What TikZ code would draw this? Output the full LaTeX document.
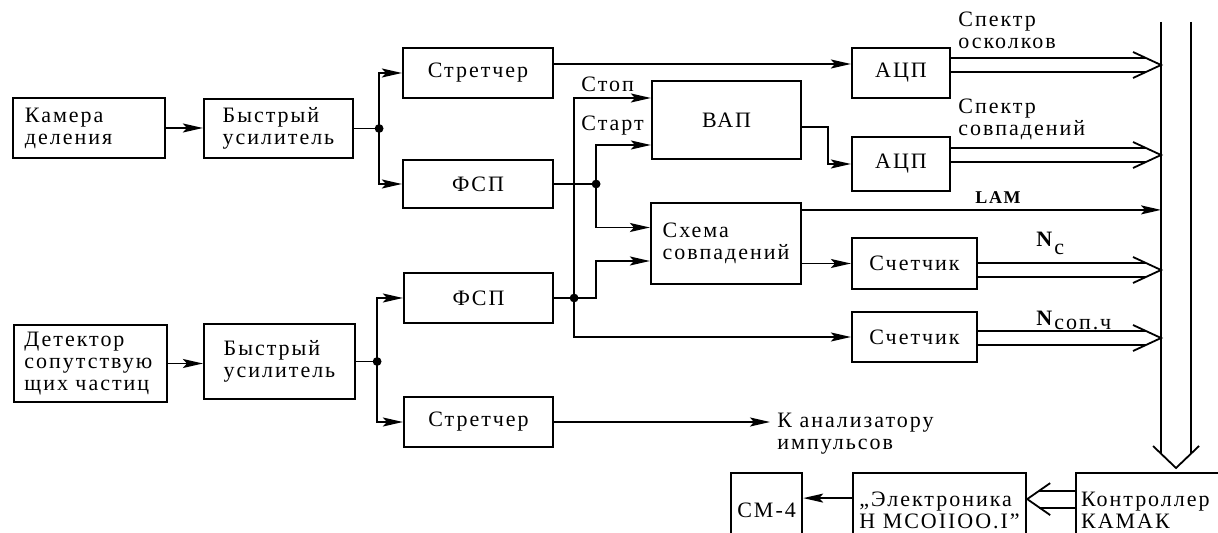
\documentclass[tikz,border=0pt]{standalone}
\usepackage{fontspec}
\setmainfont{Liberation Serif}[LetterSpace=9]
\usetikzlibrary{arrows.meta,calc}
\tikzset{
  blok/.style={draw,line width=1.1pt,inner sep=2pt,align=left},
  wire/.style={line width=0.9pt},
  sig/.style={wire,-{Stealth[length=10pt,width=4.5pt,inset=2pt]}},
  tag/.style={inner sep=0pt,anchor=west,align=left}
}
% double line with open head into the crate bus
\newcommand{\busFeed}[2]{%
  \coordinate (fd) at ([yshift=#2]#1.east);
  \coordinate (fdTip) at (fd -| busL);
  \draw[wire] ([yshift=3.5pt]fd) -- ([xshift=-7.5pt,yshift=3.5pt]fdTip);
  \draw[wire] ([yshift=-3.5pt]fd) -- ([xshift=-7.5pt,yshift=-3.5pt]fdTip);
  \draw[wire] ([xshift=-14pt,yshift=6.5pt]fdTip) -- (fdTip)
    -- ([xshift=-14pt,yshift=-6.5pt]fdTip);
}

\begin{document}
\begin{tikzpicture}[x=0.5pt,y=-0.5pt,font=\fontsize{11}{11}\selectfont]
        \useasboundingbox (0,0) rectangle (1218,533);
        \clip (0,0) rectangle (1218,533);

        % fission chamber channel
        \node[blok,minimum width=76pt,minimum height=30pt,text width=64pt]
          (cam) at (89,128) {Камера\\деления};
        \node[blok,minimum width=74.5pt,minimum height=29.5pt]
          (amp1) at (278.5,128.5) {Быстрый\\усилитель};
        \node[blok,minimum width=75pt,minimum height=25pt]
          (str1) at (478,73) {Стретчер};
        \node[blok,minimum width=75pt,minimum height=24pt]
          (fsp1) at (478,184) {ФСП};

        % associated particle channel
        \node[blok,minimum width=76.5pt,minimum height=38.5pt,text width=66pt]
          (det) at (90.5,363.5) {Детектор\\сопутствую\\щих частиц};
        \node[blok,minimum width=75.5pt,minimum height=37.5pt]
          (amp2) at (279.5,361.5) {Быстрый\\усилитель};
        \node[blok,minimum width=74.5pt,minimum height=25pt]
          (fsp2) at (478.5,298) {ФСП};
        \node[blok,minimum width=74.5pt,minimum height=25pt]
          (str2) at (478.5,422) {Стретчер};

        % timing and counting
        \node[blok,minimum width=74.5pt,minimum height=39pt,text width=62pt,
          align=center] (vap) at (726.5,120) {ВАП\hspace*{7pt}};
        \node[blok,minimum width=75pt,minimum height=40.5pt]
          (coinc) at (726,243.5) {Схема\\совпадений};
        \node[blok,minimum width=49pt,minimum height=25pt]
          (adc1) at (901,73) {АЦП};
        \node[blok,minimum width=49pt,minimum height=27pt]
          (adc2) at (901,164) {АЦП};
        \node[blok,minimum width=62.5pt,minimum height=25.5pt]
          (cnt1) at (914.5,263.5) {Счетчик};
        \node[blok,minimum width=62.5pt,minimum height=25pt]
          (cnt2) at (914.5,337) {Счетчик};

        % computer side
        \node[blok,anchor=north west,minimum width=35.5pt,minimum height=37pt]
          (cm4) at (730,472) {СМ-4};
        \node[blok,anchor=north west,minimum width=86.5pt,minimum height=37pt]
          (elec) at (852,472) {„Электроника\\Н МСОIIОО.I"};
        \node[blok,anchor=north west,minimum width=100pt,minimum height=37pt,
          text width=95pt] (ctrl) at (1075,472) {Контроллер\\КАМАК};

        \coordinate (j1) at ([xshift=12.5pt]amp1.east);
        \coordinate (j2) at ([xshift=21pt]fsp1.east);
        \coordinate (j3) at ([xshift=10pt]fsp2.east);
        \coordinate (j4) at ([xshift=10.5pt]amp2.east);
        \coordinate (stopIn) at ([yshift=11pt]vap.west);
        \coordinate (startIn) at ([yshift=-12.5pt]vap.west);
        \coordinate (busL) at (1161,22);
        \coordinate (busR) at (1191,22);
        \coordinate (busTip) at (1176,468);

        \draw[sig] (cam.east) -- (cam.east -| amp1.west);
        \draw[wire] (amp1.east) -- (j1);
        \draw[sig] (j1) |- (str1.west);
        \draw[sig] (j1) |- (fsp1.west);
        \draw[sig] ([yshift=4.5pt]str1.east) -- ([yshift=4.5pt]adc1.west);

        \draw[sig] (det.east) -- (det.east -| amp2.west);
        \draw[wire] (amp2.east) -- (j4);
        \draw[sig] (j4) |- (fsp2.west);
        \draw[sig] (j4) |- (str2.west);

        \draw[wire] (fsp1.east) -- (j2);
        \draw[sig] (j2) |- (startIn);
        \draw[sig] (j2) |- ([yshift=8pt]coinc.west);
        \draw[wire] (fsp2.east) -- (j3);
        \draw[sig] (j3) |- (stopIn);
        \draw[sig] (j3) -- ++(11pt,0) |- ([yshift=-8.75pt]coinc.west);
        \draw[sig] (j3) |- (cnt2.west);
        \foreach \j in {j1,j2,j3,j4}
          \fill (\j) circle (2.2pt);

        \draw[sig] ([yshift=-3.5pt]vap.east) -- ++(13pt,0) |- (adc2.west);
        \draw[sig] (coinc.east |- cnt1.west) -- (cnt1.west);
        \coordinate (lamOut) at ([yshift=-4pt]coinc.north east);
        \draw[sig] (lamOut) -- (lamOut -| busL);

        \node[tag] (stopTxt) at (581,84) {Стоп};
        \node[tag] (startTxt) at (581,126) {Старт};
        \node[tag] (spec1Txt) at (958,30) {Спектр\\осколков};
        \node[tag] (spec2Txt) at (958,119) {Спектр\\совпадений};
        \node[tag,font=\bfseries\fontsize{9}{10}\selectfont] (lamTxt) at (975,198) {LAM};
        \node[tag] (ncTxt) at (1036,243) {\textbf{N}\raisebox{-4pt}{с}};
        \node[tag] (nsTxt) at (1036,320) {\textbf{N}\raisebox{-2pt}{соп.ч}};
        \node[tag] (anaTxt) at (777,434) {К анализатору\\импульсов};
        \draw[sig] (str2.east) -- ([xshift=-3.5pt]str2.east -| anaTxt.west);

        % crate bus
        \busFeed{adc1}{4pt}
        \busFeed{adc2}{4.5pt}
        \busFeed{cnt1}{-3.25pt}
        \busFeed{cnt2}{-0.5pt}
        \draw[wire] (busL) -- (1161,454);
        \draw[wire] (busR) -- (1191,454);
        \draw[wire] (1153,446) -- (busTip) -- (1199,446);

        \coordinate (ceTip) at ([yshift=5.5pt]elec.east);
        \draw[wire] ([yshift=9.75pt]ctrl.west) -- ([xshift=6pt,yshift=4.25pt]ceTip);
        \draw[wire] ([yshift=1.25pt]ctrl.west) -- ([xshift=6pt,yshift=-4.25pt]ceTip);
        \draw[wire] ([xshift=11.5pt,yshift=8pt]ceTip) -- (ceTip)
          -- ([xshift=11.5pt,yshift=-8pt]ceTip);
        \draw[sig] ([yshift=6pt]elec.west) -- ([yshift=6pt]cm4.east);
      \end{tikzpicture}
\end{document}
